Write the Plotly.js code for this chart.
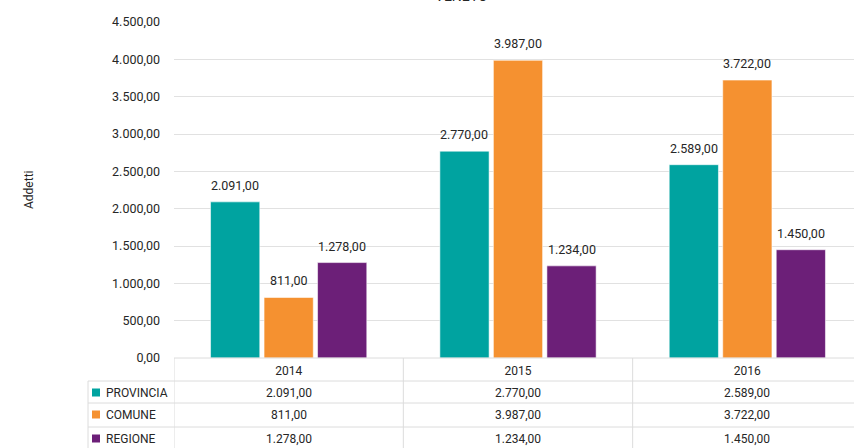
<!DOCTYPE html>
<html>
<head>
<meta charset="utf-8">
<script src="https://cdn.plot.ly/plotly-3.0.1.min.js"></script>
<style>
  html, body { margin: 0; padding: 0; overflow: hidden; background: #fff; }
  #chart { width: 870px; height: 448px; }
</style>
</head>
<body>
<div id="chart"></div>
<script>
// ---- data ----
const categories = ['2014', '2015', '2016'];
const seriesNames = ['PROVINCIA', 'COMUNE', 'REGIONE'];
const provincia = [2091, 2770, 2589];
const comune = [811, 3987, 3722];
const regione = [1278, 1234, 1450];
const seriesColors = ['#00a3a0', '#f59130', '#6c1f78'];
const chartTitle = 'VENETO';
const yTitle = 'Addetti';

const seriesValues = [provincia, comune, regione];

// ---- geometry (pixels) ----
const W = 870, H = 448;
const M = { l: 174, r: 8, t: 22, b: 90 };
const PW = W - M.l - M.r, PH = H - M.t - M.b;
const px2x = p => (p - M.l) / PW;           // paper x
const px2y = p => (H - M.b - p) / PH;       // paper y

const bargap = 0.3, bargroupgap = 0.08;
const slot = (1 - bargap) / seriesNames.length;

const fmt = v => {
  const s = v.toFixed(2).split('.');
  return s[0].replace(/\B(?=(\d{3})+(?!\d))/g, '.') + ',' + s[1];
};

const font = 'Roboto, "Liberation Sans", sans-serif';
const textColor = '#262626';
const gridColor = '#e1e1e1';
const tableColor = '#dcdcdc';

const traces = seriesNames.map((name, s) => ({
  type: 'bar',
  name: name,
  x: categories,
  y: seriesValues[s],
  marker: { color: seriesColors[s], line: { color: 'rgba(255,255,255,0.7)', width: 0.8 } },
  hoverinfo: 'skip'
}));

const annotations = [];
// data labels above bars
seriesNames.forEach((name, s) => {
  seriesValues[s].forEach((v, i) => {
    annotations.push({
      x: i + (s - (seriesNames.length - 1) / 2) * slot,
      y: v, xref: 'x', yref: 'y',
      text: fmt(v), showarrow: false,
      yanchor: 'bottom', yshift: 7,
      font: { family: font, size: 12.5, color: textColor }
    });
  });
});

// title (mostly clipped at the top, as in the reference)
annotations.push({
  x: px2x(461), y: px2y(6), xref: 'paper', yref: 'paper',
  text: chartTitle, showarrow: false, xanchor: 'center', yanchor: 'bottom',
  font: { family: font, size: 14, color: textColor }
});
// y axis title
annotations.push({
  x: px2x(29), y: 0.5, xref: 'paper', yref: 'paper',
  text: yTitle, showarrow: false, textangle: -90,
  xanchor: 'center', yanchor: 'middle',
  font: { family: font, size: 12, color: textColor }
});

// data table
const rowTop = [381, 403, 427];
const rowH = 23;
const shapes = [];
seriesNames.forEach((name, s) => {
  const cy = rowTop[s] + rowH / 2;
  shapes.push({
    type: 'rect', xref: 'paper', yref: 'paper',
    x0: px2x(92), x1: px2x(100), y0: px2y(cy + 4), y1: px2y(cy - 4),
    fillcolor: seriesColors[s], line: { width: 0 }
  });
  annotations.push({
    x: px2x(104), y: px2y(cy), xref: 'paper', yref: 'paper',
    text: name, showarrow: false, xanchor: 'left', yanchor: 'middle',
    font: { family: font, size: 12, color: textColor }
  });
  seriesValues[s].forEach((v, i) => {
    annotations.push({
      x: i, y: px2y(cy), xref: 'x', yref: 'paper',
      text: fmt(v), showarrow: false, xanchor: 'center', yanchor: 'middle',
      font: { family: font, size: 12, color: textColor }
    });
  });
});

// table lines
const lineStyle = { color: tableColor, width: 1 };
shapes.push({ type: 'line', xref: 'paper', yref: 'paper', x0: 0, x1: 1, y0: 0, y1: 0, line: lineStyle });
rowTop.concat([rowTop[2] + rowH]).forEach(py => {
  shapes.push({ type: 'line', xref: 'paper', yref: 'paper', x0: px2x(88), x1: 1, y0: px2y(py), y1: px2y(py), line: lineStyle });
});
shapes.push({ type: 'line', xref: 'paper', yref: 'paper', x0: px2x(88), x1: px2x(88), y0: px2y(rowTop[0]), y1: px2y(H + 5), line: lineStyle });
for (let k = 0; k <= categories.length; k++) {
  shapes.push({ type: 'line', xref: 'x', yref: 'paper', x0: k - 0.5, x1: k - 0.5, y0: 0, y1: px2y(H + 5), line: lineStyle });
}

const layout = {
  width: W, height: H,
  margin: M,
  paper_bgcolor: '#ffffff', plot_bgcolor: '#ffffff',
  separators: ',.',
  showlegend: false,
  barmode: 'group',
  bargap: bargap, bargroupgap: bargroupgap,
  font: { family: font, size: 12, color: textColor },
  xaxis: {
    type: 'category', range: [-0.5, categories.length - 0.5],
    showgrid: false, zeroline: false, showline: false, ticks: '',
    tickfont: { family: font, size: 12, color: textColor },
    ticklabelstandoff: 4, fixedrange: true
  },
  yaxis: {
    range: [0, 4500], dtick: 500, tick0: 0,
    tickformat: ',.2f',
    showgrid: true, gridcolor: gridColor, gridwidth: 1,
    zeroline: false, showline: false, ticks: '',
    tickfont: { family: font, size: 12.5, color: textColor },
    ticklabelstandoff: 13, fixedrange: true
  },
  annotations: annotations,
  shapes: shapes
};

Plotly.newPlot('chart', traces, layout, { staticPlot: true, displayModeBar: false });
</script>
</body>
</html>
